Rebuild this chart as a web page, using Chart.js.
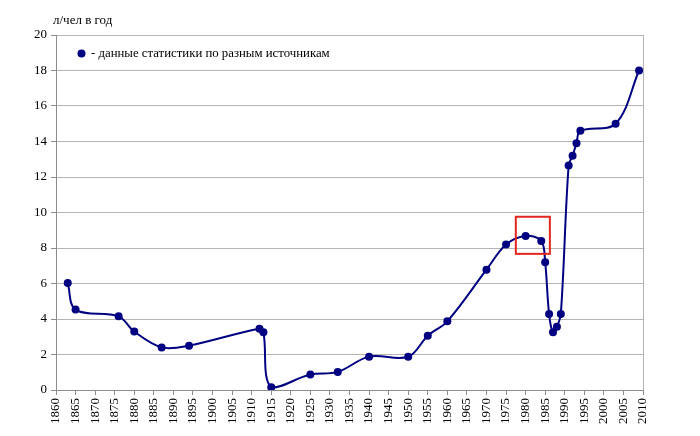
<!DOCTYPE html>
<html>
<head>
<meta charset="utf-8">
<script src="https://cdn.jsdelivr.net/npm/chart.js@4/dist/chart.umd.min.js"></script>
<style>
html,body{margin:0;padding:0;background:#fff;}
#wrap{width:700px;height:436px;position:relative;}
</style>
</head>
<body>
<div id="wrap"><canvas id="c" width="700" height="436"></canvas></div>
<script>
// Data
const years  = [1863,1865,1876,1880,1887,1894,1912,1913,1915,1925,1932,1940,1950,1955,1960,1970,1975,1980,1984,1985,1986,1987,1988,1989,1991,1992,1993,1994,2003,2009];
const values = [6.03,4.53,4.15,3.29,2.4,2.5,3.45,3.25,0.16,0.87,1.02,1.88,1.87,3.06,3.87,6.78,8.2,8.68,8.4,7.2,4.28,3.25,3.57,4.28,12.65,13.2,13.9,14.6,15.0,18.0];
const yAxisTitle = 'л/чел в год';
const legendLabel = '- данные статистики по разным источникам';
const highlightYears = [1977.5, 1986.2];
const highlightValues = [7.67, 9.76];

const serif = '"Liberation Serif", "DejaVu Serif", serif';
const navy = '#000080';
const gridGray = '#b4b4b4';
const axisGray = '#8c8c8c';

const overlay = {
  id: 'overlay',
  afterDatasetsDraw(chart) {
    const {ctx, scales: {x, y}} = chart;
    ctx.save();
    // highlight rectangle
    const x1 = x.getPixelForValue(highlightYears[0]);
    const x2 = x.getPixelForValue(highlightYears[1]);
    const y1 = y.getPixelForValue(highlightValues[1]);
    const y2 = y.getPixelForValue(highlightValues[0]);
    ctx.strokeStyle = '#e3261f';
    ctx.lineWidth = 2;
    ctx.strokeRect(x1, y1, x2 - x1, y2 - y1);
    // legend
    ctx.fillStyle = navy;
    ctx.beginPath();
    ctx.arc(81.5, 53.5, 4, 0, Math.PI * 2);
    ctx.fill();
    ctx.fillStyle = '#000';
    ctx.font = '12.8px ' + serif;
    ctx.textBaseline = 'middle';
    ctx.textAlign = 'left';
    ctx.fillText(legendLabel, 91, 53.5);
    // y axis title
    ctx.font = '13px ' + serif;
    ctx.fillText(yAxisTitle, 53, 21);
    ctx.restore();
  }
};

new Chart(document.getElementById('c'), {
  type: 'line',
  data: {
    datasets: [{
      data: years.map((yr, i) => ({x: yr, y: values[i]})),
      borderColor: navy,
      backgroundColor: navy,
      borderWidth: 2,
      pointRadius: 4,
      pointHoverRadius: 4,
      pointBackgroundColor: navy,
      pointBorderColor: navy,
      pointBorderWidth: 0,
      tension: 0.35,
      fill: false
    }]
  },
  options: {
    responsive: false,
    animation: false,
    events: [],
    layout: {padding: {top: 35, right: 57, bottom: 0, left: 0}},
    plugins: {legend: {display: false}, tooltip: {enabled: false}},
    scales: {
      x: {
        type: 'linear',
        min: 1860, max: 2010,
        afterFit(s) { s.height = 46; },
        ticks: {
          stepSize: 5,
          minRotation: 90, maxRotation: 90,
          autoSkip: false,
          color: '#000',
          padding: 3,
          font: {family: serif, size: 13},
          callback: (v) => String(v)
        },
        grid: {
          color: (c) => (c.tick && c.tick.value === 2010) ? gridGray : 'rgba(0,0,0,0)',
          tickColor: axisGray,
          tickLength: 5,
          drawOnChartArea: true
        },
        border: {color: axisGray, width: 1}
      },
      y: {
        min: 0, max: 20,
        afterFit(s) { s.width = 56; },
        ticks: {
          stepSize: 2,
          color: '#000',
          padding: 4,
          font: {family: serif, size: 13}
        },
        grid: {
          color: gridGray,
          tickColor: axisGray,
          tickLength: 5
        },
        border: {color: axisGray, width: 1}
      }
    }
  },
  plugins: [overlay]
});
</script>
</body>
</html>
